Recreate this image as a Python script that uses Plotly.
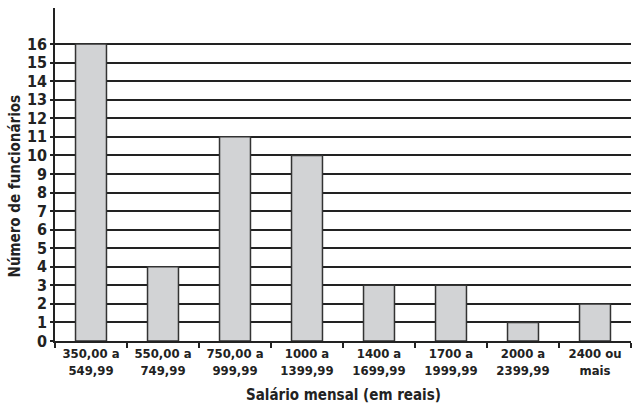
import plotly.graph_objects as go

categories = ["350,00 a<br>549,99", "550,00 a<br>749,99", "750,00 a<br>999,99",
              "1000 a<br>1399,99", "1400 a<br>1699,99", "1700 a<br>1999,99",
              "2000 a<br>2399,99", "2400 ou<br>mais"]
values = [16, 4, 11, 10, 3, 3, 1, 2]
y_ticks = list(range(0, 17))

FONT = "Liberation Sans Narrow, Arial Narrow, DejaVu Sans Condensed, Liberation Sans, Arial, sans-serif"
INK = "#222222"

fig = go.Figure(go.Bar(
    x=categories, y=values,
    marker=dict(color="#d2d3d5", line=dict(color="#333333", width=1.5)),
))

fig.update_layout(
    width=640, height=408,
    margin=dict(l=55, r=9, t=8, b=67),
    paper_bgcolor="white", plot_bgcolor="white",
    bargap=0.57,
    showlegend=False,
    font=dict(family=FONT, color=INK),
)
fig.update_xaxes(
    type="category", range=[-0.5, 7.5], automargin=False,
    showline=True, linecolor=INK, linewidth=1.5,
    ticks="outside", tickson="boundaries", ticklen=5, tickcolor=INK, tickwidth=1.5,
    tickfont=dict(size=13, family=FONT, color=INK, weight="bold"),
    showgrid=False,
)
fig.update_yaxes(
    range=[0, 17.94], tickvals=y_ticks, automargin=False,
    showline=True, linecolor=INK, linewidth=1.5,
    showgrid=True, gridcolor=INK, gridwidth=1.5,
    zeroline=False,
    ticks="outside", ticklen=3, tickcolor=INK, tickwidth=1.5,
    tickfont=dict(size=16, family=FONT, color=INK, weight="bold"),
)
fig.add_annotation(
    text="<b>Número de funcionários</b>", textangle=-90,
    xref="paper", yref="paper", x=-0.069, y=0.465, xanchor="center", yanchor="middle",
    showarrow=False, font=dict(size=15, family=FONT, color=INK),
)
fig.add_annotation(
    text="<b>Salário mensal (em reais)</b>",
    xref="paper", yref="paper", x=0.5, y=-0.162, xanchor="center", yanchor="middle",
    showarrow=False, font=dict(size=15, family=FONT, color=INK),
)

fig.write_html("out.html", config={"displayModeBar": False},
               post_script="document.body.style.margin='0';document.body.style.overflow='hidden';")
